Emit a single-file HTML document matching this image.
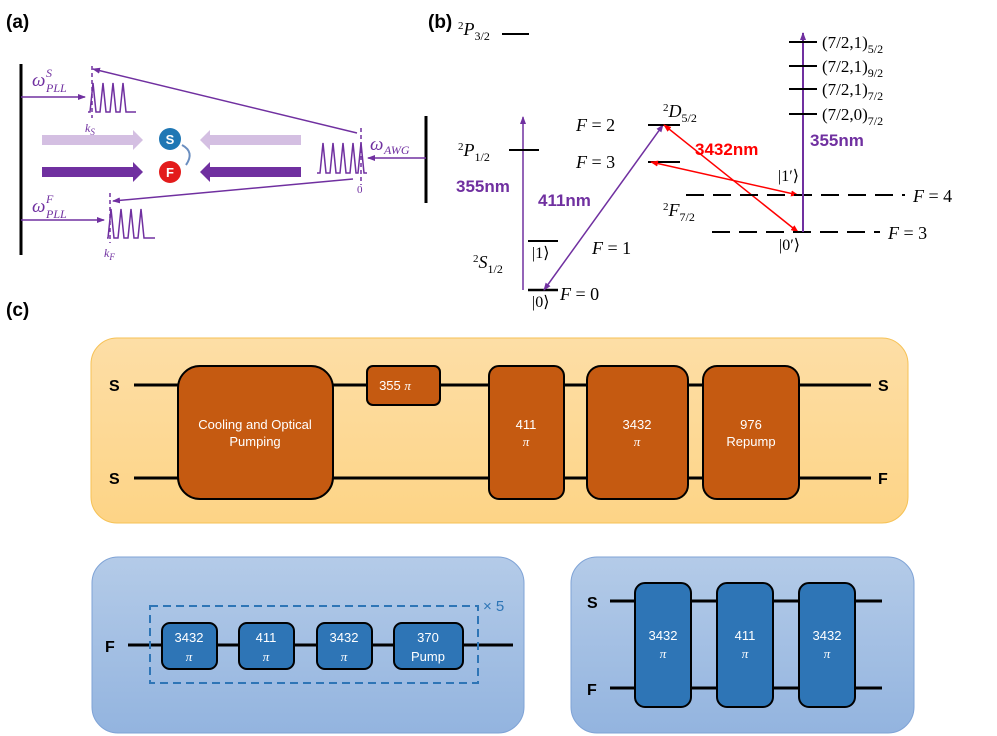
<!DOCTYPE html>
<html><head><meta charset="utf-8"><style>
html,body{margin:0;padding:0;background:#fff;}
svg{display:block;}
.m{font-family:"Liberation Serif",serif;font-style:italic;}
.r{font-family:"Liberation Serif",serif;}
.b{font-family:"Liberation Sans",sans-serif;font-weight:bold;}
.s{font-family:"Liberation Sans",sans-serif;}
</style></head><body>
<svg width="997" height="736" viewBox="0 0 997 736" xmlns="http://www.w3.org/2000/svg">
<defs>
<marker id="pa" markerWidth="8" markerHeight="8" refX="7" refY="4" orient="auto" markerUnits="userSpaceOnUse"><path d="M0,1 L8,4 L0,7 z" fill="#7030a0"/></marker>
<marker id="ra" markerWidth="8" markerHeight="8" refX="7" refY="4" orient="auto-start-reverse" markerUnits="userSpaceOnUse"><path d="M0,1 L8,4 L0,7 z" fill="#ff0000"/></marker>
<marker id="pb" markerWidth="8" markerHeight="8" refX="7" refY="4" orient="auto-start-reverse" markerUnits="userSpaceOnUse"><path d="M0,1 L8,4 L0,7 z" fill="#7030a0"/></marker>
<linearGradient id="og" x1="0" y1="0" x2="0" y2="1"><stop offset="0" stop-color="#fddea6"/><stop offset="1" stop-color="#fdd486"/></linearGradient>
<linearGradient id="bg" x1="0" y1="0" x2="0" y2="1"><stop offset="0" stop-color="#b4cbe8"/><stop offset="1" stop-color="#93b4df"/></linearGradient>
</defs>

<!-- (a) -->
<text x="6" y="28" class="b" font-size="19">(a)</text>
<line x1="21" y1="64" x2="21" y2="255" stroke="#000" stroke-width="3"/>
<line x1="426" y1="116" x2="426" y2="203" stroke="#000" stroke-width="3"/>
<g stroke="#7030a0" stroke-width="1.5" fill="none">
<line x1="21" y1="97" x2="85" y2="97" marker-end="url(#pa)"/>
<line x1="21" y1="220" x2="104" y2="220" marker-end="url(#pa)"/>
<line x1="426" y1="158" x2="368" y2="158" marker-end="url(#pa)"/>
<line x1="357" y1="133" x2="93" y2="69" marker-end="url(#pa)"/>
<line x1="353" y1="179" x2="113" y2="201" marker-end="url(#pa)"/>
<line x1="92" y1="66" x2="92" y2="118" stroke-dasharray="4,3"/>
<line x1="110" y1="193" x2="110" y2="243" stroke-dasharray="4,3"/>
<line x1="361" y1="128" x2="361" y2="185" stroke-dasharray="4,3"/>
<path d="M88,112 L90,112 L93,83 L96,112 L100,112 L103,83 L106,112 L110,112 L113,83 L116,112 L120,112 L123,83 L126,112 L136,112"/>
<path d="M107,238 L108,238 L111,209 L114,238 L118,238 L121,209 L124,238 L128,238 L131,209 L134,238 L138,238 L141,209 L144,238 L155,238"/>
<path d="M317,173 L320,173 L323,143 L326,173 L330,173 L333,143 L336,173 L340,173 L343,143 L346,173 L350,173 L353,143 L356,173 L358,173 L361,143 L364,173 L367,173"/>
</g>
<text x="32" y="86" class="m" font-size="19" fill="#7030a0">ω</text>
<text x="46" y="77" class="m" font-size="12" fill="#7030a0">S</text>
<text x="46" y="92" class="m" font-size="12" fill="#7030a0">PLL</text>
<text x="32" y="212" class="m" font-size="19" fill="#7030a0">ω</text>
<text x="46" y="203" class="m" font-size="12" fill="#7030a0">F</text>
<text x="46" y="218" class="m" font-size="12" fill="#7030a0">PLL</text>
<text x="370" y="150" class="m" font-size="19" fill="#7030a0">ω</text>
<text x="384" y="154" class="m" font-size="12" fill="#7030a0">AWG</text>
<text x="85" y="132" class="m" font-size="12" fill="#7030a0">k<tspan font-size="9" dy="3">S</tspan></text>
<text x="104" y="257" class="m" font-size="12" fill="#7030a0">k<tspan font-size="9" dy="3">F</tspan></text>
<text x="357" y="193" class="r" font-size="11" fill="#7030a0">0</text>
<!-- beams -->
<path d="M42,135 L133,135 L133,130 L143,140 L133,150 L133,145 L42,145 z" fill="#d4bfe2"/>
<path d="M301,135 L210,135 L210,130 L200,140 L210,150 L210,145 L301,145 z" fill="#d4bfe2"/>
<path d="M42,167 L133,167 L133,162 L143,172 L133,182 L133,177 L42,177 z" fill="#7030a0"/>
<path d="M301,167 L210,167 L210,162 L200,172 L210,182 L210,177 L301,177 z" fill="#7030a0"/>
<circle cx="170" cy="139" r="11" fill="#1f77b4"/>
<text x="170" y="144" class="b" font-size="13" fill="#fff" text-anchor="middle">S</text>
<circle cx="170" cy="172" r="11" fill="#e31b1b"/>
<text x="170" y="177" class="b" font-size="13" fill="#fff" text-anchor="middle">F</text>
<path d="M182,145 Q195,152 186,165" stroke="#6a8ec0" stroke-width="2" fill="none"/>

<!-- (b) -->
<text x="428" y="28" class="b" font-size="19">(b)</text>
<text x="458" y="35" class="m" font-size="18"><tspan font-size="11" dy="-6" font-style="normal">2</tspan><tspan dy="6">P</tspan><tspan font-size="12" dy="5" font-style="normal">3/2</tspan></text>
<line x1="502" y1="34" x2="529" y2="34" stroke="#000" stroke-width="2"/>
<line x1="523" y1="290" x2="523" y2="117" stroke="#7030a0" stroke-width="1.5" marker-end="url(#pa)"/>
<line x1="509" y1="150" x2="539" y2="150" stroke="#000" stroke-width="2"/>
<text x="458" y="156" class="m" font-size="18"><tspan font-size="11" dy="-6" font-style="normal">2</tspan><tspan dy="6">P</tspan><tspan font-size="12" dy="5" font-style="normal">1/2</tspan></text>
<text x="456" y="192" class="b" font-size="17" fill="#7030a0">355nm</text>
<line x1="528" y1="241" x2="558" y2="241" stroke="#000" stroke-width="2"/>
<line x1="528" y1="290" x2="558" y2="290" stroke="#000" stroke-width="2.5"/>
<text x="532" y="258" class="r" font-size="16">|1⟩</text>
<text x="532" y="307" class="r" font-size="16">|0⟩</text>
<text x="473" y="268" class="m" font-size="18"><tspan font-size="11" dy="-6" font-style="normal">2</tspan><tspan dy="6">S</tspan><tspan font-size="12" dy="5" font-style="normal">1/2</tspan></text>
<text x="592" y="254" class="m" font-size="18">F <tspan font-style="normal">= 1</tspan></text>
<text x="560" y="300" class="m" font-size="18">F <tspan font-style="normal">= 0</tspan></text>
<line x1="544" y1="290" x2="663" y2="125" stroke="#7030a0" stroke-width="1.5" marker-start="url(#pb)" marker-end="url(#pb)"/>
<text x="538" y="206" class="b" font-size="17" fill="#7030a0">411nm</text>
<line x1="648" y1="125" x2="680" y2="125" stroke="#000" stroke-width="2"/>
<line x1="648" y1="162" x2="680" y2="162" stroke="#000" stroke-width="2"/>
<text x="576" y="131" class="m" font-size="18">F <tspan font-style="normal">= 2</tspan></text>
<text x="576" y="168" class="m" font-size="18">F <tspan font-style="normal">= 3</tspan></text>
<text x="663" y="117" class="m" font-size="18"><tspan font-size="11" dy="-6" font-style="normal">2</tspan><tspan dy="6">D</tspan><tspan font-size="12" dy="5" font-style="normal">5/2</tspan></text>
<text x="695" y="155" class="b" font-size="17" fill="#ff0000">3432nm</text>
<line x1="664" y1="125" x2="798" y2="232" stroke="#ff0000" stroke-width="1.5" marker-start="url(#ra)" marker-end="url(#ra)"/>
<line x1="651" y1="162" x2="798" y2="195" stroke="#ff0000" stroke-width="1.5" marker-start="url(#ra)" marker-end="url(#ra)"/>
<line x1="686" y1="195" x2="905" y2="195" stroke="#000" stroke-width="2" stroke-dasharray="18,9"/>
<line x1="712" y1="232" x2="880" y2="232" stroke="#000" stroke-width="2" stroke-dasharray="18,9"/>
<text x="913" y="202" class="m" font-size="18">F <tspan font-style="normal">= 4</tspan></text>
<text x="888" y="239" class="m" font-size="18">F <tspan font-style="normal">= 3</tspan></text>
<text x="663" y="216" class="m" font-size="18"><tspan font-size="11" dy="-6" font-style="normal">2</tspan><tspan dy="6">F</tspan><tspan font-size="12" dy="5" font-style="normal">7/2</tspan></text>
<text x="778" y="181" class="r" font-size="16">|1′⟩</text>
<text x="779" y="250" class="r" font-size="16">|0′⟩</text>
<line x1="803" y1="232" x2="803" y2="33" stroke="#7030a0" stroke-width="2" marker-end="url(#pa)"/>
<text x="810" y="146" class="b" font-size="17" fill="#7030a0">355nm</text>
<g stroke="#000" stroke-width="2">
<line x1="789" y1="42" x2="817" y2="42"/><line x1="789" y1="66" x2="817" y2="66"/>
<line x1="789" y1="89" x2="817" y2="89"/><line x1="789" y1="114" x2="817" y2="114"/>
</g>
<g class="r" font-size="17">
<text x="822" y="48">(7/2,1)<tspan font-size="12" dy="5">5/2</tspan></text>
<text x="822" y="72">(7/2,1)<tspan font-size="12" dy="5">9/2</tspan></text>
<text x="822" y="95">(7/2,1)<tspan font-size="12" dy="5">7/2</tspan></text>
<text x="822" y="120">(7/2,0)<tspan font-size="12" dy="5">7/2</tspan></text>
</g>

<!-- (c) -->
<text x="6" y="316" class="b" font-size="19">(c)</text>
<rect x="91" y="338" width="817" height="185" rx="26" fill="url(#og)" stroke="#f6c256" stroke-width="1"/>
<g stroke="#000" stroke-width="3">
<line x1="134" y1="385" x2="871" y2="385"/><line x1="134" y1="478" x2="871" y2="478"/>
</g>
<g fill="#c55a11" stroke="#000" stroke-width="2">
<rect x="178" y="366" width="155" height="133" rx="22"/>
<rect x="367" y="366" width="73" height="39" rx="6"/>
<rect x="489" y="366" width="75" height="133" rx="10"/>
<rect x="587" y="366" width="101" height="133" rx="14"/>
<rect x="703" y="366" width="96" height="133" rx="14"/>
</g>
<g class="b" font-size="16"><text x="109" y="391">S</text><text x="109" y="484">S</text><text x="878" y="391">S</text><text x="878" y="484">F</text></g>
<g class="s" font-size="13" fill="#fff" text-anchor="middle">
<text x="255" y="429">Cooling and Optical</text><text x="255" y="446">Pumping</text>
<text x="395" y="390">355 <tspan class="m">π</tspan></text>
<text x="526" y="429">411</text><text x="526" y="446" class="m">π</text>
<text x="637" y="429">3432</text><text x="637" y="446" class="m">π</text>
<text x="751" y="429">976</text><text x="751" y="446">Repump</text>
</g>

<rect x="92" y="557" width="432" height="176" rx="26" fill="url(#bg)" stroke="#7fa3d6" stroke-width="1"/>
<rect x="571" y="557" width="343" height="176" rx="26" fill="url(#bg)" stroke="#7fa3d6" stroke-width="1"/>
<line x1="128" y1="645" x2="513" y2="645" stroke="#000" stroke-width="3"/>
<rect x="150" y="606" width="328" height="77" fill="none" stroke="#2e75b6" stroke-width="2" stroke-dasharray="8,5"/>
<text x="483" y="611" class="s" font-size="15" fill="#2e75b6">× 5</text>
<text x="105" y="652" class="b" font-size="16">F</text>
<g fill="#2e75b6" stroke="#000" stroke-width="2">
<rect x="162" y="623" width="55" height="46" rx="8"/>
<rect x="239" y="623" width="55" height="46" rx="8"/>
<rect x="317" y="623" width="55" height="46" rx="8"/>
<rect x="394" y="623" width="69" height="46" rx="8"/>
</g>
<g class="s" font-size="13" fill="#fff" text-anchor="middle">
<text x="189" y="642">3432</text><text x="189" y="661" class="m">π</text>
<text x="266" y="642">411</text><text x="266" y="661" class="m">π</text>
<text x="344" y="642">3432</text><text x="344" y="661" class="m">π</text>
<text x="428" y="642">370</text><text x="428" y="661">Pump</text>
</g>
<g stroke="#000" stroke-width="3"><line x1="610" y1="601" x2="882" y2="601"/><line x1="610" y1="688" x2="882" y2="688"/></g>
<text x="587" y="608" class="b" font-size="16">S</text>
<text x="587" y="695" class="b" font-size="16">F</text>
<g fill="#2e75b6" stroke="#000" stroke-width="2">
<rect x="635" y="583" width="56" height="124" rx="10"/>
<rect x="717" y="583" width="56" height="124" rx="10"/>
<rect x="799" y="583" width="56" height="124" rx="10"/>
</g>
<g class="s" font-size="13" fill="#fff" text-anchor="middle">
<text x="663" y="640">3432</text><text x="663" y="658" class="m">π</text>
<text x="745" y="640">411</text><text x="745" y="658" class="m">π</text>
<text x="827" y="640">3432</text><text x="827" y="658" class="m">π</text>
</g>
</svg>
</body></html>
